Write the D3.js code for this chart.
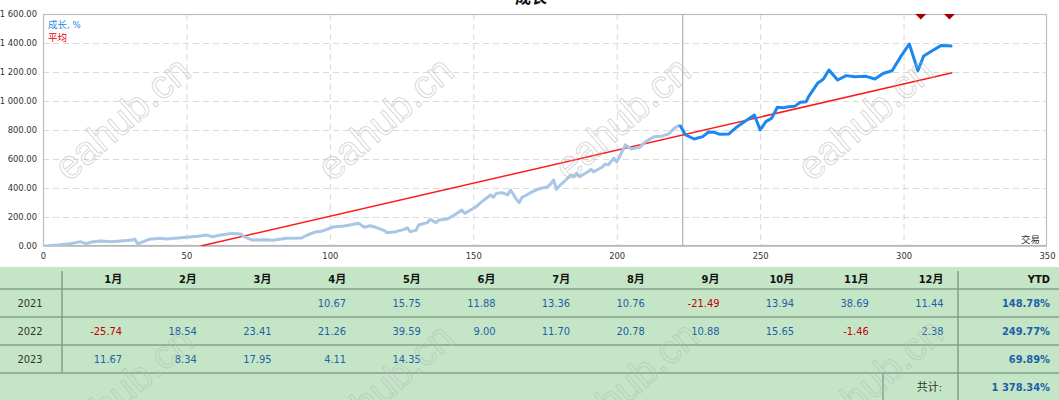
<!DOCTYPE html>
<html><head><meta charset="utf-8">
<script src="https://cdn.jsdelivr.net/npm/d3@7"></script>
<style>
html,body{margin:0;padding:0;background:#fff;overflow:hidden}
svg{display:block}
.cond{font-family:"DejaVu Sans Condensed","DejaVu Sans","Noto Sans CJK SC",sans-serif;font-stretch:condensed}
</style></head><body>
<svg id="c" width="1059" height="400"></svg>
<script>
// ---------- data ----------
const title = "成长";
const legendLabels = ["成长, %", "平均"];
const xAxisLabel = "交易";
const xTicks = [0, 50, 100, 150, 200, 250, 300, 350];
const yTicks = [0, 200, 400, 600, 800, 1000, 1200, 1400, 1600];
// history part (light)
const growthHistory = [[0,0],[2,2],[6,9],[10,18],[13,30],[15,16],[17,28],[20,34],[24,30],[27,34],[31,41],[32,48],[33,14],[35,30],[37,46],[41,53],[43,48],[47,55],[50,60],[54,67],[57,76],[59,64],[62,76],[66,87],[69,83],[70,64],[73,41],[78,43],[80,39],[85,53],[90,55],[92,74],[95,97],[97,101],[99,115],[101,131],[105,138],[107,145],[110,157],[112,129],[114,140],[116,129],[119,106],[120,92],[123,99],[126,115],[127,126],[128,99],[130,108],[131,145],[134,161],[135,184],[137,161],[138,179],[141,186],[144,221],[146,248],[147,225],[151,271],[153,306],[156,352],[157,336],[158,363],[160,368],[162,352],[163,386],[165,322],[166,299],[167,336],[168,345],[170,368],[173,395],[176,409],[177,428],[178,455],[179,391],[180,414],[182,450],[184,490],[185,478],[186,501],[187,478],[190,512],[191,529],[192,512],[195,545],[196,566],[197,559],[199,605],[200,581],[201,616],[203,697],[205,669],[208,680],[210,719],[213,754],[216,759],[218,772],[220,811],[222,834]];
// recent part (bright)
const growthRecent = [[222,834],[224,766],[227,738],[230,754],[232,786],[234,784],[236,770],[239,772],[242,823],[245,864],[248,903],[250,800],[252,858],[254,881],[256,957],[258,954],[260,961],[262,963],[264,991],[266,995],[267,1034],[270,1122],[272,1150],[274,1214],[277,1145],[280,1175],[283,1168],[287,1170],[290,1152],[293,1191],[296,1209],[299,1306],[302,1393],[305,1209],[307,1310],[310,1347],[313,1382],[317,1379]];
const averageLine = [[55,0],[317,1195]];
const splitX = 223;
const markers = [[306,1600],[316,1600]];

const months = ["1月","2月","3月","4月","5月","6月","7月","8月","9月","10月","11月","12月"];
const years = ["2021","2022","2023"];
const monthly2021 = [null,null,null,10.67,15.75,11.88,13.36,10.76,-21.49,13.94,38.69,11.44];
const monthly2022 = [-25.74,18.54,23.41,21.26,39.59,9.00,11.70,20.78,10.88,15.65,-1.46,2.38];
const monthly2023 = [11.67,8.34,17.95,4.11,14.35,null,null,null,null,null,null,null];
const ytd = [148.78, 249.77, 69.89];
const totalLabel = "共计:";
const totalValue = 1378.34;
const watermark = "eahub.cn";

// ---------- drawing ----------
const svg = d3.select("#c");
const W = 1059;
const loc = d3.formatLocale({decimal:".", thousands:" ", grouping:[3], currency:["",""], minus:"-"});
const fmtY = loc.format(",.2f");
const fmt2 = loc.format(".2f");

const x = d3.scaleLinear().domain([0,350]).range([43,1047]);
const y = d3.scaleLinear().domain([0,1600]).range([246,14]);

svg.append("defs").append("clipPath").attr("id","plot")
  .append("rect").attr("x",43).attr("y",14).attr("width",1004).attr("height",232);

// grid
const grid = svg.append("g");
grid.selectAll(".hg").data(yTicks.filter(d=>d>0&&d<1600)).join("line")
  .attr("x1",43).attr("x2",1047).attr("y1",d=>y(d)+0.5).attr("y2",d=>y(d)+0.5)
  .attr("stroke","#d9d9d9").attr("stroke-dasharray","6,4");
grid.selectAll(".vg").data(xTicks.filter(d=>d>0&&d<350)).join("line")
  .attr("y1",14).attr("y2",246).attr("x1",d=>x(d)+0.5).attr("x2",d=>x(d)+0.5)
  .attr("stroke","#d9d9d9").attr("stroke-dasharray","6,4");

// border
svg.append("rect").attr("x",43.5).attr("y",14.5).attr("width",1003).attr("height",231)
  .attr("fill","none").attr("stroke","#bdbdbd").attr("stroke-width",1.2);
svg.append("line").attr("x1",43).attr("x2",1047).attr("y1",246).attr("y2",246)
  .attr("stroke","#b5b5b5").attr("stroke-width",1.6);

// split line
svg.append("line").attr("x1",x(splitX)).attr("x2",x(splitX)).attr("y1",14).attr("y2",246)
  .attr("stroke","#b0b0b0").attr("stroke-width",1.2);

// axes
const yAxis = d3.axisLeft(y).tickValues(yTicks).tickFormat(fmtY).tickSize(0).tickPadding(6);
const gy = svg.append("g").attr("transform","translate(43,0)").call(yAxis);
gy.select(".domain").remove();
gy.selectAll("text").attr("class","cond").attr("font-size",9.3).attr("fill","#333").attr("x",-6);
const xAxis = d3.axisBottom(x).tickValues(xTicks).tickFormat(d3.format("d")).tickSize(0).tickPadding(6);
const gx = svg.append("g").attr("transform","translate(0,246)").call(xAxis);
gx.select(".domain").remove();
gx.selectAll("text").attr("class","cond").attr("font-size",9.3).attr("fill","#333").attr("dy","0.71em");

// lines
const plot = svg.append("g").attr("clip-path","url(#plot)");
const line = d3.line().x(d=>x(d[0])).y(d=>y(d[1]));
plot.append("path").datum(averageLine).attr("d",line).attr("fill","none")
  .attr("stroke","#ff1a1a").attr("stroke-width",1.5);
plot.append("path").datum(growthHistory).attr("d",line).attr("fill","none")
  .attr("stroke","#a9c6e6").attr("stroke-width",3).attr("stroke-linejoin","round");
plot.append("path").datum(growthRecent).attr("d",line).attr("fill","none")
  .attr("stroke","#1a88f0").attr("stroke-width",3).attr("stroke-linejoin","round");
plot.selectAll(".mk").data(markers).join("path")
  .attr("d",d3.symbol(d3.symbolSquare,60)())
  .attr("transform",d=>`translate(${x(d[0])},${y(d[1])}) rotate(45)`)
  .attr("fill","#a50000");

// legend & labels
svg.append("text").attr("class","cond").attr("x",48).attr("y",28).attr("font-size",9.5)
  .attr("fill","#1e88e5").text(legendLabels[0]);
svg.append("text").attr("class","cond").attr("x",48).attr("y",41).attr("font-size",9.5)
  .attr("fill","#ee0000").text(legendLabels[1]);
svg.append("text").attr("class","cond").attr("x",1040).attr("y",242.5).attr("font-size",9.5)
  .attr("text-anchor","end").attr("fill","#333").text(xAxisLabel);
svg.append("text").attr("x",531).attr("y",3).attr("text-anchor","middle")
  .attr("font-family","Noto Sans CJK SC").attr("font-weight","bold").attr("font-size",16)
  .attr("fill","#111").text(title);

// ---------- table ----------
const T = svg.append("g");
T.append("rect").attr("x",0).attr("y",267).attr("width",W).attr("height",133).attr("fill","#c4e6c6");
const lineC = "#85a08a";
T.selectAll(".hl").data([289,317,345,373]).join("line")
  .attr("x1",0).attr("x2",W).attr("y1",d=>d).attr("y2",d=>d)
  .attr("stroke",lineC).attr("stroke-width",1.5);
T.append("line").attr("x1",62).attr("x2",62).attr("y1",271).attr("y2",373).attr("stroke",lineC).attr("stroke-width",1.5);
T.append("line").attr("x1",958).attr("x2",958).attr("y1",271).attr("y2",400).attr("stroke",lineC).attr("stroke-width",1.5);
T.append("line").attr("x1",883).attr("x2",883).attr("y1",373).attr("y2",400).attr("stroke",lineC).attr("stroke-width",1.5);

const colW = (958-62)/12;
const colRight = i => 62 + (i+1)*colW - 14.5;
const rowMid = [279.5, 303.5, 331, 359, 387];

// header
T.selectAll(".mh").data(months).join("text").attr("class","cond")
  .attr("x",(d,i)=>colRight(i)).attr("y",rowMid[0]).attr("dy","0.36em")
  .attr("text-anchor","end").attr("font-size",11).attr("font-weight","bold").attr("fill","#111").text(d=>d);
T.append("text").attr("class","cond").attr("x",1050).attr("y",rowMid[0]).attr("dy","0.36em")
  .attr("text-anchor","end").attr("font-size",11).attr("font-weight","bold").attr("fill","#111").text("YTD");

const rows = [monthly2021, monthly2022, monthly2023];
rows.forEach((vals, r) => {
  const g = T.append("g");
  g.append("text").attr("class","cond").attr("x",30).attr("y",rowMid[r+1]).attr("dy","0.36em")
    .attr("text-anchor","middle").attr("font-size",11).attr("fill","#333").text(years[r]);
  g.selectAll(".v").data(vals.map((v,i)=>({v,i})).filter(d=>d.v!==null)).join("text").attr("class","cond")
    .attr("x",d=>colRight(d.i)).attr("y",rowMid[r+1]).attr("dy","0.36em")
    .attr("text-anchor","end").attr("font-size",11)
    .attr("fill",d=>d.v<0?"#c40000":"#1f5fa8").text(d=>fmt2(d.v));
  g.append("text").attr("class","cond").attr("x",1050).attr("y",rowMid[r+1]).attr("dy","0.36em")
    .attr("text-anchor","end").attr("font-size",11).attr("font-weight","bold").attr("fill","#1f5fa8")
    .text(fmtY(ytd[r])+"%");
});
T.append("text").attr("class","cond").attr("x",942).attr("y",rowMid[4]).attr("dy","0.36em")
  .attr("text-anchor","end").attr("font-size",11).attr("fill","#333").text(totalLabel);
T.append("text").attr("class","cond").attr("x",1050).attr("y",rowMid[4]).attr("dy","0.36em")
  .attr("text-anchor","end").attr("font-size",11).attr("font-weight","bold").attr("fill","#1f5fa8")
  .text(fmtY(totalValue)+"%");

// watermarks
const wmPos = [[122,118],[385,118],[622,118],[865,118],[125,388],[385,385],[630,383],[875,380]];
svg.append("g").selectAll("text").data(wmPos).join("text")
  .attr("transform",d=>`translate(${d[0]},${d[1]}) rotate(-41)`)
  .attr("text-anchor","middle").attr("dy","0.35em")
  .attr("font-family","Liberation Sans, Arial, sans-serif").attr("font-size",40)
  .attr("fill","none").attr("stroke","#b8b8b8").attr("stroke-opacity",0.55).attr("stroke-width",1)
  .text(watermark);
</script>
</body></html>
